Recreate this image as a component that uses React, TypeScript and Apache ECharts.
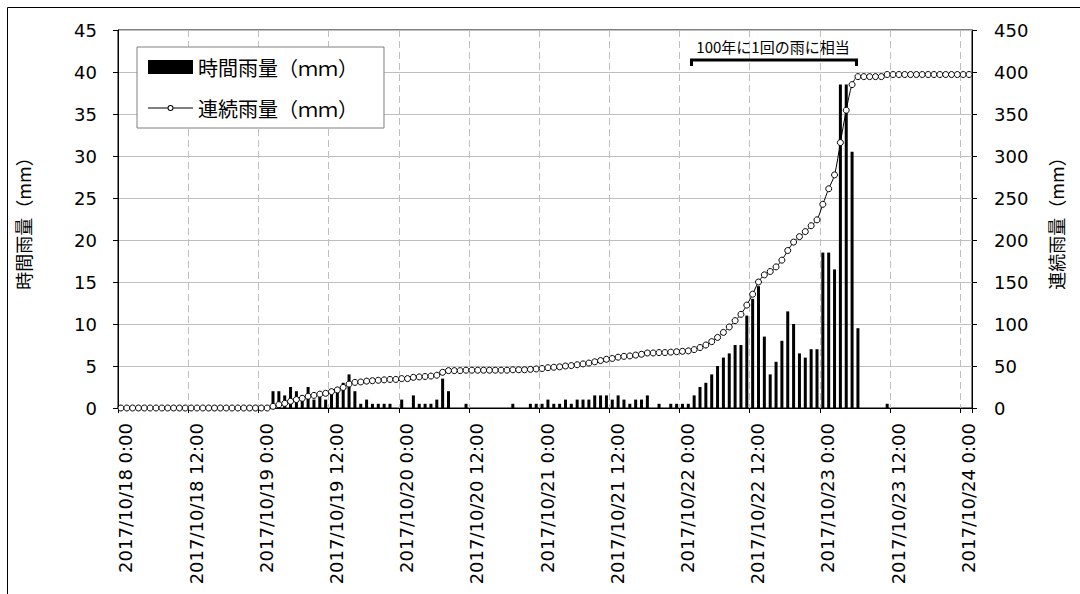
import React, { useEffect, useRef } from 'react';
import * as echarts from 'echarts';

// hourly categories 2017/10/18 0:00 .. 2017/10/24 1:00
const HOURS = 146;
const categories: string[] = [];
for (let i = 0; i < HOURS; i++) {
  const d = 18 + Math.floor(i / 24);
  const h = i % 24;
  categories.push(`2017/10/${d} ${h}:00`);
}

// 時間雨量 (mm), one value per hour
const hourlyRain: number[] = [
  // 10/18
  0, 0, 0, 0, 0, 0, 0, 0, 0, 0, 0, 0, 0, 0, 0, 0, 0, 0, 0, 0, 0, 0, 0, 0,
  // 10/19
  0, 0, 2, 2, 1.5, 2.5, 2, 1.5, 2.5, 1, 1.5, 1, 2, 2, 3, 4, 2, 0.5, 1, 0.5, 0.5, 0.5, 0.5, 0,
  // 10/20
  1, 0, 1.5, 0.5, 0.5, 0.5, 1, 3.5, 2, 0, 0, 0.5, 0, 0, 0, 0, 0, 0, 0, 0.5, 0, 0, 0.5, 0.5,
  // 10/21
  0.5, 1, 0.5, 0.5, 1, 0.5, 1, 1, 1, 1.5, 1.5, 1.5, 1, 1.5, 1, 0.5, 1, 1, 1.5, 0, 0.5, 0, 0.5, 0.5,
  // 10/22
  0.5, 0.5, 1.5, 2.5, 3, 4, 5, 6, 6.5, 7.5, 7.5, 11, 13, 14.5, 8.5, 4, 5.5, 8, 11.5, 10, 6.5, 6, 7, 7,
  // 10/23
  18.5, 18.5, 16.5, 38.5, 38.5, 30.5, 9.5, 0, 0, 0, 0, 0.5, 0, 0, 0, 0, 0, 0, 0, 0, 0, 0, 0, 0,
  // 10/24
  0, 0,
];

// 連続雨量 (mm), one value per hour
const cumulativeRain: number[] = [
  // 10/18
  0, 0, 0, 0, 0, 0, 0, 0, 0, 0, 0, 0, 0, 0, 0, 0, 0, 0, 0, 0, 0, 0, 0, 0,
  // 10/19
  0, 0, 2, 4, 5.5, 8, 10, 11.5, 14, 15, 16.5, 17.5, 19.5, 21.5, 24.5, 28.5, 30.5, 31, 32, 32.5, 33, 33.5, 34, 34,
  // 10/20
  35, 35, 36.5, 37, 37.5, 38, 39, 42.5, 44.5, 44.5, 44.5, 45, 45, 45, 45, 45, 45, 45, 45, 45.5, 45.5, 45.5, 46, 46.5,
  // 10/21
  47, 48, 48.5, 49, 50, 50.5, 51.5, 52.5, 53.5, 55, 56.5, 58, 59, 60.5, 61.5, 62, 63, 64, 65.5, 65.5, 66, 66, 66.5, 67,
  // 10/22
  67.5, 68, 69.5, 72, 75, 79, 84, 90, 96.5, 104, 111.5, 122.5, 135.5, 150, 158.5, 162.5, 168, 176, 187.5, 197.5, 204, 210, 217, 224,
  // 10/23
  242.5, 261, 277.5, 316, 354.5, 385, 394.5, 394.5, 394.5, 394.5, 394.5, 397, 397, 397, 397, 397, 397, 397, 397, 397, 397, 397, 397, 397,
  // 10/24
  397, 397,
];

const leftAxis = { min: 0, max: 45, interval: 5 };
const rightAxis = { min: 0, max: 450, interval: 50 };

const seriesNames = ['時間雨量（ｍｍ）', '連続雨量（ｍｍ）'];
const axisNames = ['時間雨量（mm）', '連続雨量（mm）'];
const annotationText = '100年に1回の雨に相当';

const NUM_FONT = 'DejaVu Sans';
const JP_FONT = 'Noto Sans CJK JP';

const lineLegendIcon =
  'path://M0 6.5H19.5V7.5H0Z M25.5 6.5H45V7.5H25.5Z M19.5 7A3 3 0 1 1 25.5 7A3 3 0 1 1 19.5 7Z M20.5 7A2 2 0 1 0 24.5 7A2 2 0 1 0 20.5 7Z';

export default function App() {
  const ref = useRef<HTMLDivElement>(null);

  useEffect(() => {
    if (!ref.current) return;
    const chart = echarts.init(ref.current, null, { renderer: 'svg' });
    const option: any = {
      animation: false,
      backgroundColor: '#fff',
      grid: {
        left: 118,
        top: 30,
        right: 108,
        bottom: 186,
        show: true,
        borderColor: '#000',
        borderWidth: 1,
        backgroundColor: 'transparent',
      },
      legend: {
        orient: 'vertical',
        left: 137,
        top: 47,
        padding: [8, 26, 8, 11],
        itemGap: 17,
        itemWidth: 45,
        itemHeight: 14,
        backgroundColor: '#fff',
        borderColor: '#808080',
        borderWidth: 1,
        borderRadius: 0,
        selectedMode: false,
        textStyle: { fontSize: 20, lineHeight: 24, fontFamily: JP_FONT, color: '#000' },
        data: [
          { name: seriesNames[0], icon: 'rect', itemStyle: { color: '#000' } },
          { name: seriesNames[1], icon: lineLegendIcon, itemStyle: { color: '#000', borderWidth: 0 } },
        ],
      },
      xAxis: {
        type: 'category',
        data: categories,
        boundaryGap: true,
        axisLine: { show: true, lineStyle: { color: '#000', width: 1 } },
        axisTick: { show: true, interval: 11, alignWithLabel: false, length: 5, lineStyle: { color: '#000' } },
        axisLabel: {
          interval: 11,
          rotate: 90,
          margin: 15,
          fontSize: 18,
          lineHeight: 10,
          verticalAlign: 'top',
          fontFamily: NUM_FONT,
          color: '#000',
        },
        splitLine: {
          show: true,
          interval: 11,
          lineStyle: { color: '#bfbfbf', width: 1, type: [7, 4] },
        },
      },
      yAxis: [
        {
          type: 'value',
          min: leftAxis.min,
          max: leftAxis.max,
          interval: leftAxis.interval,
          name: axisNames[0],
          nameLocation: 'middle',
          nameRotate: 90,
          nameGap: 86,
          nameTextStyle: { fontSize: 18, fontFamily: JP_FONT, color: '#000' },
          axisLine: { show: true, lineStyle: { color: '#000' } },
          axisTick: { show: true, length: 5, lineStyle: { color: '#000' } },
          axisLabel: { margin: 21, fontSize: 18, fontFamily: NUM_FONT, color: '#000' },
          splitLine: { show: true, lineStyle: { color: '#bfbfbf', width: 1 } },
        },
        {
          type: 'value',
          position: 'right',
          min: rightAxis.min,
          max: rightAxis.max,
          interval: rightAxis.interval,
          name: axisNames[1],
          nameLocation: 'middle',
          nameRotate: 90,
          nameGap: 75,
          nameTextStyle: { fontSize: 18, fontFamily: JP_FONT, color: '#000' },
          axisLine: { show: true, lineStyle: { color: '#000' } },
          axisTick: { show: true, length: 5, lineStyle: { color: '#000' } },
          axisLabel: { margin: 22, fontSize: 18, fontFamily: NUM_FONT, color: '#000' },
          splitLine: { show: false },
        },
      ],
      series: [
        {
          name: seriesNames[0],
          type: 'bar',
          yAxisIndex: 0,
          data: hourlyRain,
          barWidth: 3,
          itemStyle: { color: '#000' },
          z: 2,
        },
        {
          name: seriesNames[1],
          type: 'line',
          yAxisIndex: 1,
          data: cumulativeRain,
          smooth: 0.3,
          symbol: 'circle',
          symbolSize: 6,
          showAllSymbol: true,
          lineStyle: { color: '#000', width: 1 },
          itemStyle: { color: '#fff', borderColor: '#000', borderWidth: 1 },
          z: 3,
        },
      ],
      graphic: [
        {
          type: 'polyline',
          silent: true,
          shape: { points: [[7.5, 594], [7.5, 7.5], [1080, 7.5]] },
          style: { stroke: '#000', lineWidth: 1, fill: null },
        },
        {
          type: 'polyline',
          silent: true,
          shape: { points: [[691.5, 66], [691.5, 60], [856.5, 60], [856.5, 66]] },
          style: { stroke: '#000', lineWidth: 3, fill: null },
          z: 10,
        },
        {
          type: 'text',
          silent: true,
          x: 773,
          y: 46,
          style: {
            text: annotationText,
            fontSize: 15,
            fontFamily: JP_FONT,
            fill: '#000',
            align: 'center',
            verticalAlign: 'middle',
          },
          z: 10,
        },
      ],
    };
    chart.setOption(option);
    return () => chart.dispose();
  }, []);

  return (
    <div
      ref={ref}
      style={{ position: 'fixed', left: 0, top: 0, width: 1080, height: 594 }}
    />
  );
}
